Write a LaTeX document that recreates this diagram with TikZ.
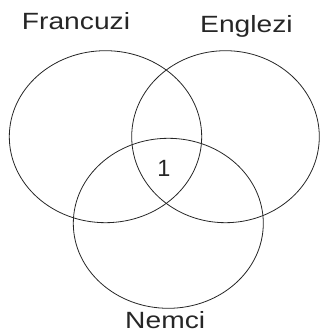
\documentclass[tikz,border=0pt]{standalone}
\usepackage{fontspec}
\setmainfont{Liberation Sans}
\begin{document}
\begin{tikzpicture}[x=1pt,y=1pt,
  setline/.style={line width=0.8pt, draw=black!85},
  lbl/.style={inner sep=0pt, font=\fontsize{23.5}{28}\selectfont, text=black!85, xscale=1.2}]
\useasboundingbox (0,0) rectangle (320,335);
\draw[setline] (105.5,198.3) ellipse [x radius=96.2, y radius=86];
\draw[setline] (225.5,198.3) ellipse [x radius=93.8, y radius=86];
\draw[setline] (168.3,111.7) ellipse [x radius=95, y radius=85];
\node[lbl, anchor=base west] (fr) at (21.7,305) {Francuzi};
\node[lbl, anchor=base west] (en) at (200,302.3) {Englezi};
\node[lbl, anchor=base west] (ne) at (125,6.7) {Nemci};
\node[lbl, anchor=base, xscale=1/1.2] (one) at (164,158.3) {1};
\end{tikzpicture}
\end{document}
